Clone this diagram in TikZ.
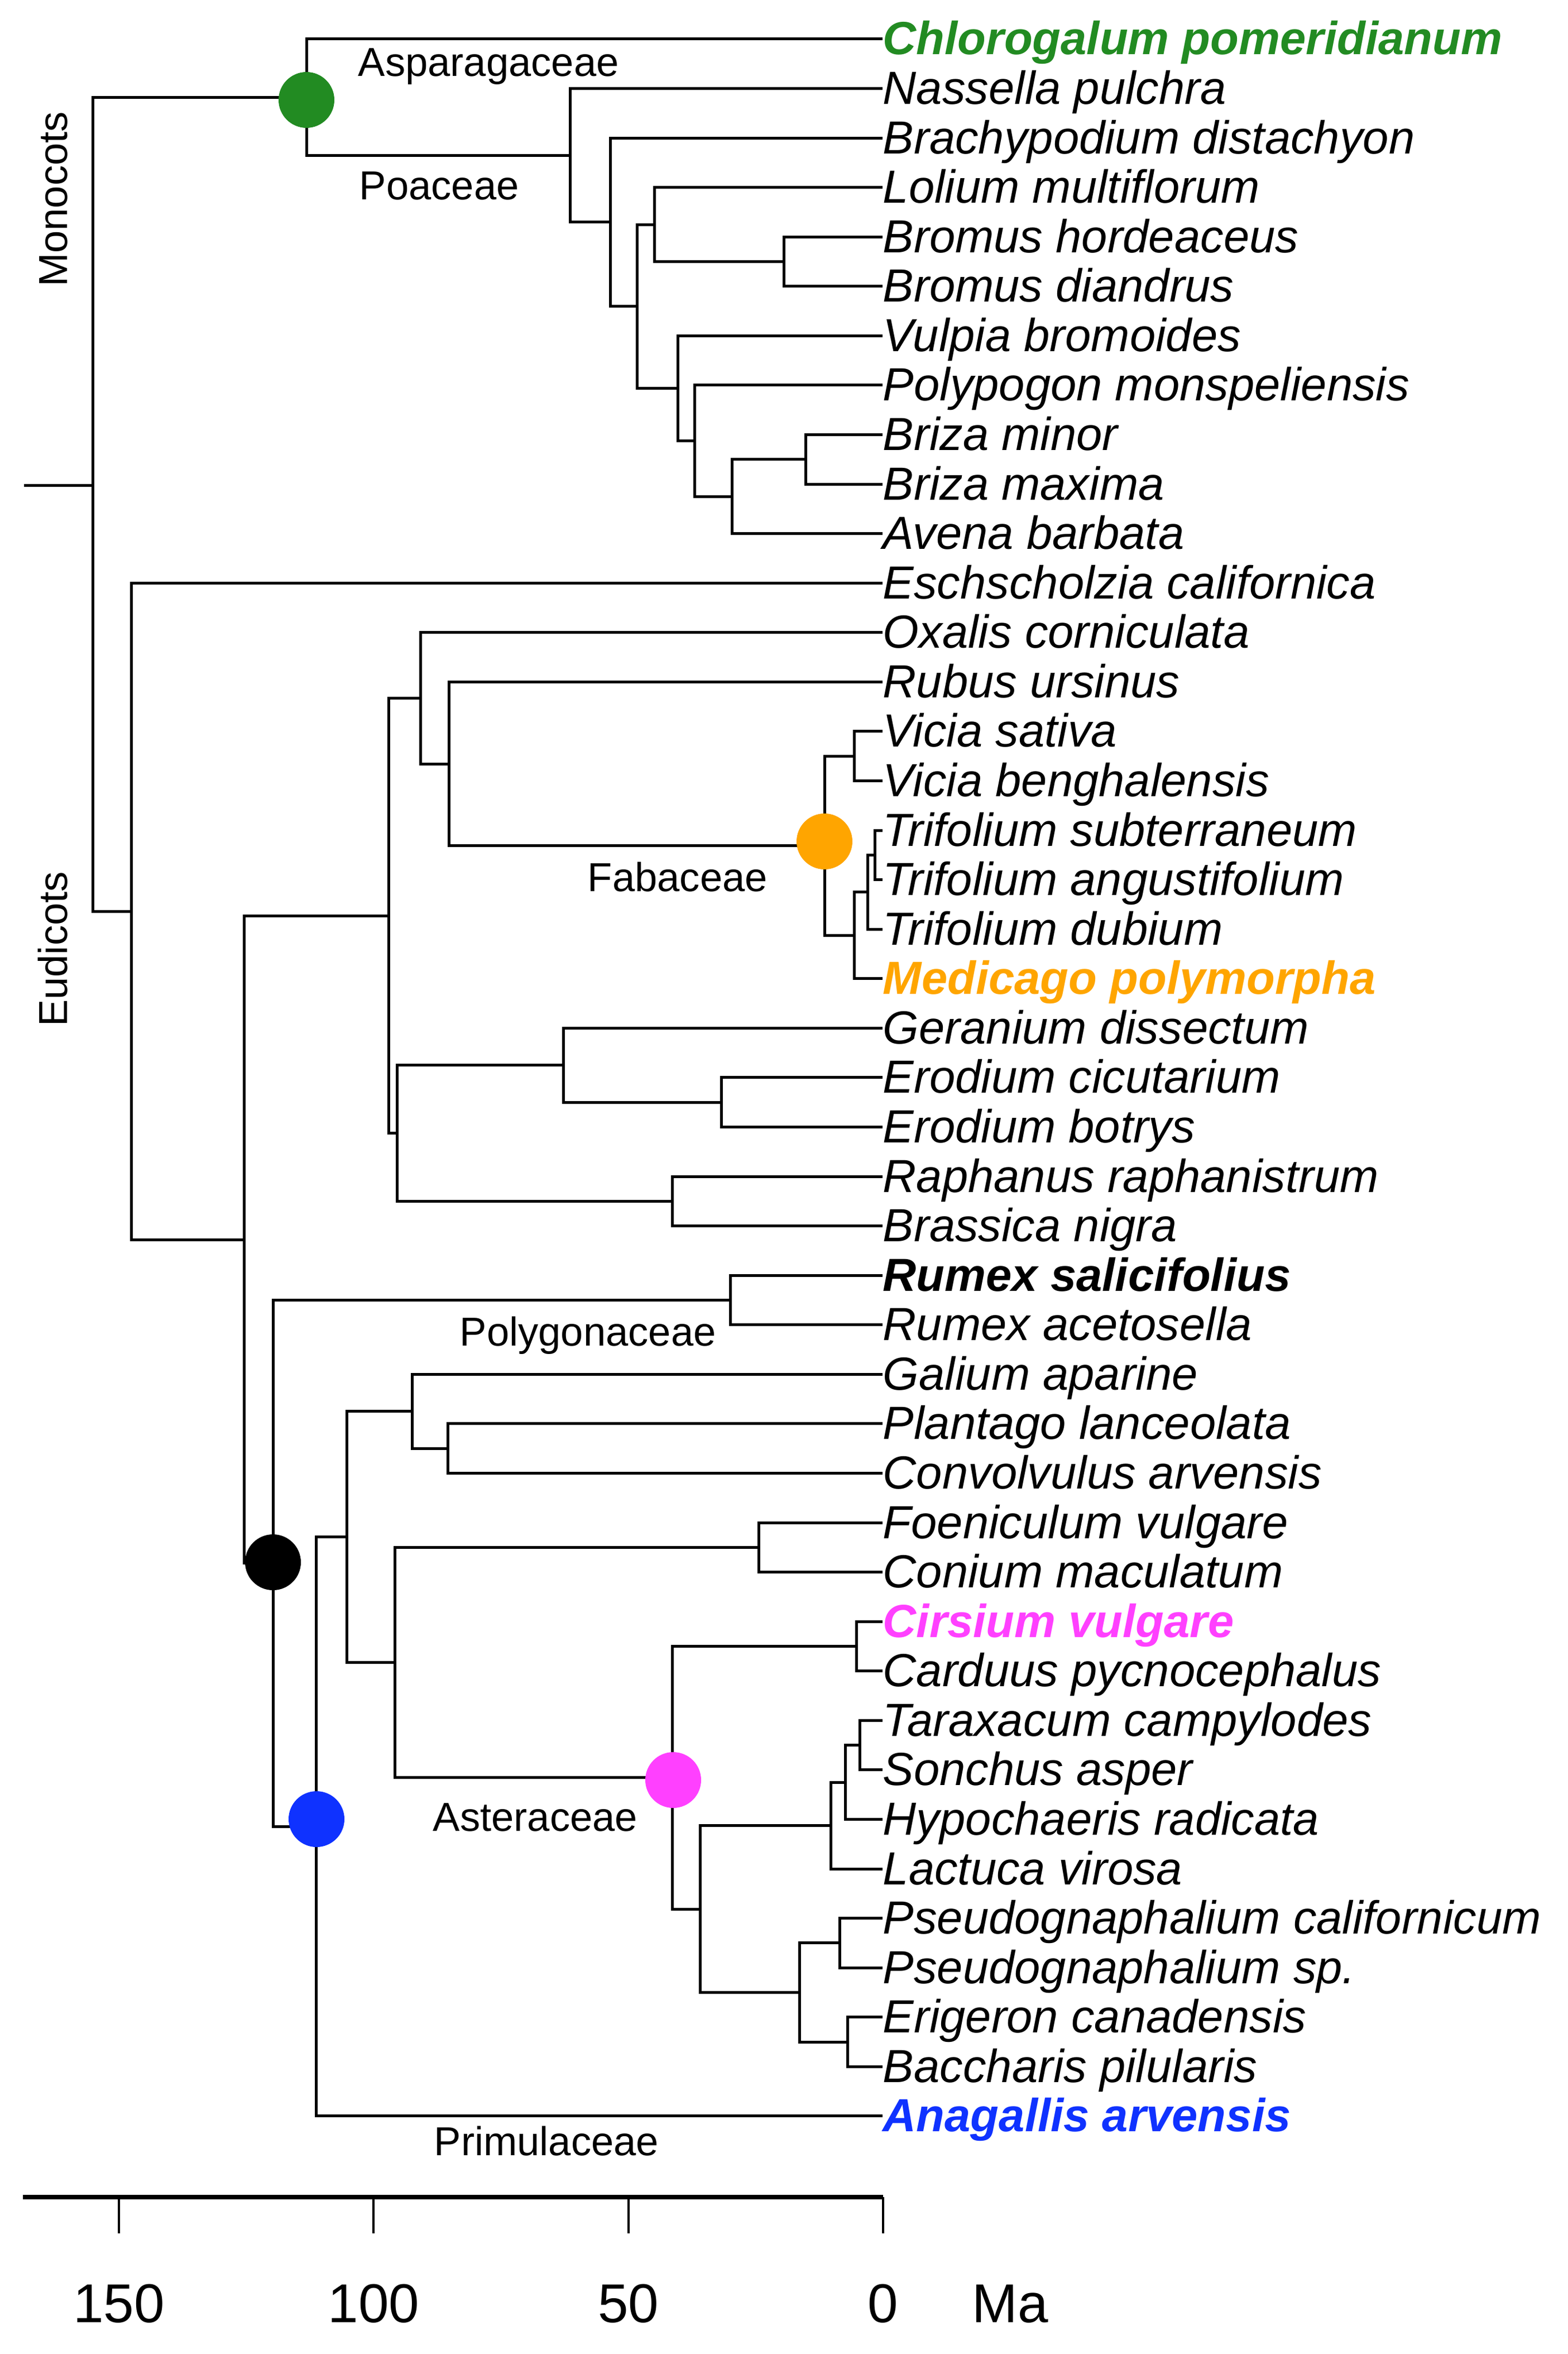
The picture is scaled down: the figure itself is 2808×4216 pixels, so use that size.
\documentclass[tikz,border=0pt]{standalone}
\usepackage{fontspec}
\setmainfont{Liberation Sans}
\definecolor{cgreen}{RGB}{34,139,34}
\definecolor{corange}{RGB}{255,165,0}
\definecolor{cmag}{RGB}{255,64,255}
\definecolor{cblue}{RGB}{15,50,255}
\begin{document}
\begin{tikzpicture}[x=0.25pt,y=-0.25pt,
  declare function={ty(\t)=70+(\t-1)*88.57;},
  edge/.style={line width=1.25pt, line join=miter},
  sp/.style={anchor=base west, inner sep=0pt, font=\fontsize{20.8}{24}\selectfont\itshape},
  spb/.style={sp, font=\fontsize{20.8}{24}\selectfont\bfseries\itshape},
  fam/.style={inner sep=0pt, font=\fontsize{18.1}{21}\selectfont},
  dot/.style={circle, minimum size=25pt, inner sep=0pt, draw=none},
  axl/.style={inner sep=0pt, font=\fontsize{24.5}{28}\selectfont},
  axisline/.style={line width=2pt},
  tickline/.style={line width=1pt}]
\useasboundingbox (0,0) rectangle (2808,4216);

% tips
\foreach \i in {1,...,43} \coordinate (t\i) at (1581,{ty(\i)});

% internal nodes
\coordinate (nRoot) at (166,869);
\coordinate (rstub) at (43,869);
\coordinate (nA) at (549,{ty(2.1758)});
\coordinate (nP) at (1021,{ty(3.3516)});
\coordinate (nP2) at (1093,{ty(4.7031)});
\coordinate (nP3) at (1141,{ty(6.4063)});
\coordinate (nP4) at (1172,{ty(4.75)});
\coordinate (nBro) at (1404,{ty(5.5)});
\coordinate (nP6) at (1214,{ty(8.0625)});
\coordinate (nP7) at (1244,{ty(9.125)});
\coordinate (nP8) at (1311,{ty(10.25)});
\coordinate (nBri) at (1443,{ty(9.5)});
\coordinate (nE) at (235,{ty(18.637)});
\coordinate (nC) at (437,{ty(25.275)});
\coordinate (nR) at (696,{ty(18.727)});
\coordinate (n753) at (753,{ty(14.328)});
\coordinate (n804) at (804,{ty(15.656)});
\coordinate (nF) at (1477,{ty(17.3125)});
\coordinate (nV) at (1530,{ty(15.5)});
\coordinate (nT3) at (1530,{ty(19.125)});
\coordinate (nT2) at (1554,{ty(18.25)});
\coordinate (nT1) at (1567,{ty(17.5)});
\coordinate (n711) at (711,{ty(23.125)});
\coordinate (nG) at (1009,{ty(21.75)});
\coordinate (nEr) at (1292,{ty(22.5)});
\coordinate (nBr) at (1204,{ty(24.5)});
\coordinate (nK) at (489,{ty(31.822)});
\coordinate (nRu) at (1308,{ty(26.5)});
\coordinate (nB) at (566,{ty(37.145)});
\coordinate (n621) at (621,{ty(31.289)});
\coordinate (n738) at (738,{ty(28.75)});
\coordinate (n802) at (802,{ty(29.5)});
\coordinate (n707) at (707,{ty(33.828)});
\coordinate (nAp) at (1359,{ty(31.5)});
\coordinate (nAst) at (1204,{ty(36.156)});
\coordinate (nCi) at (1534,{ty(33.5)});
\coordinate (n1254) at (1254,{ty(38.8125)});
\coordinate (n1488) at (1488,{ty(37.125)});
\coordinate (n1514) at (1514,{ty(36.25)});
\coordinate (nTa) at (1540,{ty(35.5)});
\coordinate (n1432) at (1432,{ty(40.5)});
\coordinate (nPs) at (1504,{ty(39.5)});
\coordinate (nEB) at (1518,{ty(41.5)});

% edges
\draw[edge] (rstub) -- (nRoot);
\foreach \p/\c in {nRoot/nA, nRoot/nE,
  nA/t1, nA/nP, nP/t2, nP/nP2, nP2/t3, nP2/nP3, nP3/nP4, nP3/nP6,
  nP4/t4, nP4/nBro, nBro/t5, nBro/t6, nP6/t7, nP6/nP7, nP7/t8, nP7/nP8,
  nP8/nBri, nP8/t11, nBri/t9, nBri/t10,
  nE/t12, nE/nC, nC/nR, nC/nK, nR/n753, nR/n711, n753/t13, n753/n804,
  n804/t14, n804/nF, nF/nV, nF/nT3, nV/t15, nV/t16, nT3/nT2, nT3/t20,
  nT2/nT1, nT2/t19, nT1/t17, nT1/t18, n711/nG, n711/nBr, nG/t21, nG/nEr,
  nEr/t22, nEr/t23, nBr/t24, nBr/t25,
  nK/nRu, nK/nB, nRu/t26, nRu/t27, nB/n621, nB/t43, n621/n738, n621/n707,
  n738/t28, n738/n802, n802/t29, n802/t30, n707/nAp, n707/nAst,
  nAp/t31, nAp/t32, nAst/nCi, nAst/n1254, nCi/t33, nCi/t34,
  n1254/n1488, n1254/n1432, n1488/n1514, n1488/t38, n1514/nTa, n1514/t37,
  nTa/t35, nTa/t36, n1432/nPs, n1432/nEB, nPs/t39, nPs/t40, nEB/t41, nEB/t42}
  \draw[edge] (\p) |- (\c);

% dots
\node[dot, fill=cgreen] (dA) at (549,179) {};
\node[dot, fill=corange] (dF) at (1477,1507) {};
\node[dot, fill=black] (dK) at (489,2798) {};
\node[dot, fill=cblue] (dB) at (567,3258) {};
\node[dot, fill=cmag] (dAst) at (1206,3188) {};

% tip labels
\node[spb, text=cgreen] (l1) at ([yshift=-7pt]t1) {Chlorogalum pomeridianum};
\node[sp] (l2) at ([yshift=-7pt]t2) {Nassella pulchra};
\node[sp] (l3) at ([yshift=-7pt]t3) {Brachypodium distachyon};
\node[sp] (l4) at ([yshift=-7pt]t4) {Lolium multiflorum};
\node[sp] (l5) at ([yshift=-7pt]t5) {Bromus hordeaceus};
\node[sp] (l6) at ([yshift=-7pt]t6) {Bromus diandrus};
\node[sp] (l7) at ([yshift=-7pt]t7) {Vulpia bromoides};
\node[sp] (l8) at ([yshift=-7pt]t8) {Polypogon monspeliensis};
\node[sp] (l9) at ([yshift=-7pt]t9) {Briza minor};
\node[sp] (l10) at ([yshift=-7pt]t10) {Briza maxima};
\node[sp] (l11) at ([yshift=-7pt]t11) {Avena barbata};
\node[sp] (l12) at ([yshift=-7pt]t12) {Eschscholzia californica};
\node[sp] (l13) at ([yshift=-7pt]t13) {Oxalis corniculata};
\node[sp] (l14) at ([yshift=-7pt]t14) {Rubus ursinus};
\node[sp] (l15) at ([yshift=-7pt]t15) {Vicia sativa};
\node[sp] (l16) at ([yshift=-7pt]t16) {Vicia benghalensis};
\node[sp] (l17) at ([yshift=-7pt]t17) {Trifolium subterraneum};
\node[sp] (l18) at ([yshift=-7pt]t18) {Trifolium angustifolium};
\node[sp] (l19) at ([yshift=-7pt]t19) {Trifolium dubium};
\node[spb, text=corange] (l20) at ([yshift=-7pt]t20) {Medicago polymorpha};
\node[sp] (l21) at ([yshift=-7pt]t21) {Geranium dissectum};
\node[sp] (l22) at ([yshift=-7pt]t22) {Erodium cicutarium};
\node[sp] (l23) at ([yshift=-7pt]t23) {Erodium botrys};
\node[sp] (l24) at ([yshift=-7pt]t24) {Raphanus raphanistrum};
\node[sp] (l25) at ([yshift=-7pt]t25) {Brassica nigra};
\node[spb] (l26) at ([yshift=-7pt]t26) {Rumex salicifolius};
\node[sp] (l27) at ([yshift=-7pt]t27) {Rumex acetosella};
\node[sp] (l28) at ([yshift=-7pt]t28) {Galium aparine};
\node[sp] (l29) at ([yshift=-7pt]t29) {Plantago lanceolata};
\node[sp] (l30) at ([yshift=-7pt]t30) {Convolvulus arvensis};
\node[sp] (l31) at ([yshift=-7pt]t31) {Foeniculum vulgare};
\node[sp] (l32) at ([yshift=-7pt]t32) {Conium maculatum};
\node[spb, text=cmag] (l33) at ([yshift=-7pt]t33) {Cirsium vulgare};
\node[sp] (l34) at ([yshift=-7pt]t34) {Carduus pycnocephalus};
\node[sp] (l35) at ([yshift=-7pt]t35) {Taraxacum campylodes};
\node[sp] (l36) at ([yshift=-7pt]t36) {Sonchus asper};
\node[sp] (l37) at ([yshift=-7pt]t37) {Hypochaeris radicata};
\node[sp] (l38) at ([yshift=-7pt]t38) {Lactuca virosa};
\node[sp] (l39) at ([yshift=-7pt]t39) {Pseudognaphalium californicum};
\node[sp] (l40) at ([yshift=-7pt]t40) {Pseudognaphalium sp.};
\node[sp] (l41) at ([yshift=-7pt]t41) {Erigeron canadensis};
\node[sp] (l42) at ([yshift=-7pt]t42) {Baccharis pilularis};
\node[spb, text=cblue] (l43) at ([yshift=-7pt]t43) {Anagallis arvensis};

% family labels
\node[fam, anchor=base west] (fAsp) at (641,137) {Asparagaceae};
\node[fam, anchor=base west] (fPoa) at (643,358) {Poaceae};
\node[fam, anchor=base west] (fFab) at (1052,1596) {Fabaceae};
\node[fam, anchor=base west] (fPol) at (823,2410) {Polygonaceae};
\node[fam, anchor=base east] (fAst) at (1143,3279) {Asteraceae};
\node[fam, anchor=base west] (fPri) at (777,3860) {Primulaceae};
\node[fam, rotate=90, anchor=base] (gMono) at (120,357) {Monocots};
\node[fam, rotate=90, anchor=base] (gEudi) at (120,1700) {Eudicots};

% time axis
\coordinate (ax0) at (41,3935);
\coordinate (ax1) at (1582,3935);
\draw[axisline] (ax0) -- (ax1);
\foreach \v in {150,100,50,0} {
  \coordinate (tk\v) at ({1582-\v*9.127},3935);
  \coordinate (tkb\v) at ({1582-\v*9.127},4000);
  \draw[tickline] (tk\v) -- (tkb\v);
  \node[axl, anchor=base] (al\v) at ({1582-\v*9.127},4159) {\v};
}
\node[axl, anchor=base west] (ma) at (1741,4159) {Ma};
\end{tikzpicture}
\end{document}
